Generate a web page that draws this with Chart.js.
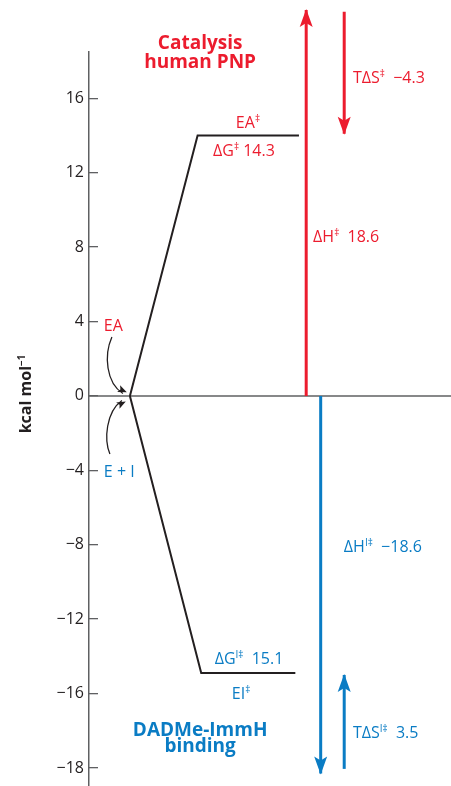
<!DOCTYPE html>
<html>
<head>
<meta charset="utf-8">
<script src="https://cdn.jsdelivr.net/npm/chart.js@4.4.1/dist/chart.umd.min.js"></script>
<style>
  html, body { margin: 0; padding: 0; background: #fff; }
  #wrap { width: 451px; height: 786px; }
</style>
</head>
<body>
<div id="wrap"><canvas id="energyChart" width="451" height="786"></canvas></div>
<script>
const RED = '#ec1c2e';
const BLUE = '#0a7cc4';
const INK = '#231f20';
const AXIS = '#5f6062';
const FONT = '"Open Sans", "DejaVu Sans", sans-serif';

// reaction path: ground state -> transition state (x = reaction coordinate, y = kcal/mol)
const catalysisX = [11.3, 30, 58];
const catalysisY = [0, 14.0, 14.0];
const bindingX = [11.3, 31, 57];
const bindingY = [0, -14.9, -14.9];

// enthalpy and entropy arrows, [start, end]
const dHCatalysisX = 60;
const dHCatalysisY = [0, 20.75];
const dHBindingX = 64;
const dHBindingY = [0, -20.3];
const tdsX = 70.5;
const tdsCatalysisY = [20.65, 14.1];
const tdsBindingY = [-20.05, -15.0];

// y axis
const tickValues = [16, 12, 8, 4, 0, -4, -8, -12, -16, -20];
const tickLabels = ['16', '12', '8', '4', '0', '\u22124', '\u22128', '\u221212', '\u221216', '\u221218'];

// text labels, placed in data units; runs are [text, superscript?]
const notes = [
  { x: 30.7, y: 18.66, align: 'center', color: RED, size: 19, bold: true, runs: [['Catalysis']] },
  { x: 30.7, y: 17.63, align: 'center', color: RED, size: 19, bold: true, runs: [['human PNP']] },
  { x: 43.9, y: 14.41, align: 'center', color: RED, size: 16, runs: [['EA'], ['\u2021', true]] },
  { x: 42.8, y: 12.9, align: 'center', color: RED, size: 16, runs: [['\u0394G'], ['\u2021', true], [' 14.3']] },
  { x: 72.9, y: 16.83, align: 'left', color: RED, size: 16, runs: [['T\u0394S'], ['\u2021', true], ['  \u22124.3']] },
  { x: 61.9, y: 8.28, align: 'left', color: RED, size: 16, runs: [['\u0394H'], ['\u2021', true], ['  18.6']] },
  { x: 4.1, y: 3.49, align: 'left', color: RED, size: 16, runs: [['EA']] },
  { x: 4.1, y: -4.35, align: 'left', color: BLUE, size: 16, runs: [['E + I']] },
  { x: 70.4, y: -8.39, align: 'left', color: BLUE, size: 16, runs: [['\u0394H'], ['I\u2021', true], ['  \u221218.6']] },
  { x: 44.2, y: -14.41, align: 'center', color: BLUE, size: 16, runs: [['\u0394G'], ['I\u2021', true], ['  15.1']] },
  { x: 42.0, y: -16.29, align: 'center', color: BLUE, size: 16, runs: [['EI'], ['\u2021', true]] },
  { x: 30.7, y: -18.3, align: 'center', color: BLUE, size: 19, bold: true, runs: [['DADMe-ImmH']] },
  { x: 30.7, y: -19.14, align: 'center', color: BLUE, size: 19, bold: true, runs: [['binding']] },
  { x: 72.9, y: -18.39, align: 'left', color: BLUE, size: 16, runs: [['T\u0394S'], ['I\u2021', true], ['  3.5']] }
];

const pts = (xs, ys) => ys.map((y, i) => ({ x: Array.isArray(xs) ? xs[i] : xs, y }));

function drawRuns(ctx, runs, x, y, align, size, bold, color) {
  const weight = bold ? '700 ' : '400 ';
  const big = weight + size + 'px ' + FONT;
  const small = weight + Math.round(size * 0.62) + 'px ' + FONT;
  let total = 0;
  const widths = runs.map(([t, sup]) => {
    ctx.font = sup ? small : big;
    const w = ctx.measureText(t).width;
    total += w;
    return w;
  });
  let cx = align === 'center' ? x - total / 2 : align === 'right' ? x - total : x;
  ctx.fillStyle = color;
  ctx.textAlign = 'left';
  ctx.textBaseline = 'alphabetic';
  runs.forEach(([t, sup], i) => {
    ctx.font = sup ? small : big;
    ctx.fillText(t, cx, sup ? y - size * 0.36 : y);
    cx += widths[i];
  });
}

function arrowHead(ctx, x, y, angle, len, half, notch, color) {
  ctx.save();
  ctx.translate(x, y);
  ctx.rotate(angle);
  ctx.fillStyle = color;
  ctx.beginPath();
  ctx.moveTo(1, 0);
  ctx.lineTo(-len, -half);
  ctx.lineTo(-len + notch, 0);
  ctx.lineTo(-len, half);
  ctx.closePath();
  ctx.fill();
  ctx.restore();
}

const decorations = {
  id: 'decorations',
  afterDatasetsDraw(chart) {
    const ctx = chart.ctx;
    const xs = chart.scales.x, ys = chart.scales.y;

    // arrowheads at the end of flagged datasets
    chart.data.datasets.forEach((ds, i) => {
      if (!ds.arrow) return;
      const el = chart.getDatasetMeta(i).data;
      const a = el[el.length - 1], b = el[el.length - 2];
      arrowHead(ctx, a.x, a.y, Math.atan2(a.y - b.y, a.x - b.x), 17, 6.5, 4, ds.borderColor);
    });

    // curved arrows from the EA and E + I labels into the ground state
    const ox = xs.getPixelForValue(catalysisX[0]);
    const oy = ys.getPixelForValue(0);
    const curves = [
      [[-18, -59], [-26, -41], [-24, -13], [-4, -4]],
      [[-20, 58], [-26, 44], [-24, 16], [-5, 6]]
    ];
    ctx.save();
    ctx.strokeStyle = INK;
    ctx.lineWidth = 1.3;
    curves.forEach(c => {
      ctx.beginPath();
      ctx.moveTo(ox + c[0][0], oy + c[0][1]);
      ctx.bezierCurveTo(ox + c[1][0], oy + c[1][1], ox + c[2][0], oy + c[2][1], ox + c[3][0] - 3, oy + c[3][1] - Math.sign(c[3][1]) * 1.5);
      ctx.stroke();
      const ang = Math.atan2(c[3][1] - c[2][1], c[3][0] - c[2][0]);
      arrowHead(ctx, ox + c[3][0], oy + c[3][1], ang, 8, 3.6, 2, INK);
    });
    ctx.restore();

    // labels
    notes.forEach(n => {
      drawRuns(ctx, n.runs, xs.getPixelForValue(n.x), ys.getPixelForValue(n.y), n.align, n.size, n.bold, n.color);
    });

    // axis title
    ctx.save();
    ctx.translate(31, ys.getPixelForValue(0) - 2);
    ctx.rotate(-Math.PI / 2);
    drawRuns(ctx, [['kcal mol'], ['\u22121', true]], 0, 0, 'center', 16, true, INK);
    ctx.restore();
  }
};

const lineDs = (data, color, width, extra) => Object.assign({
  data, borderColor: color, borderWidth: width, pointRadius: 0, showLine: true,
  fill: false, tension: 0, clip: false, borderCapStyle: 'butt'
}, extra || {});

new Chart(document.getElementById('energyChart'), {
  type: 'scatter',
  data: {
    datasets: [
      lineDs(pts(catalysisX, catalysisY), INK, 2),
      lineDs(pts(bindingX, bindingY), INK, 2),
      lineDs(pts(dHCatalysisX, dHCatalysisY), RED, 3, { arrow: true }),
      lineDs(pts(dHBindingX, dHBindingY), BLUE, 3, { arrow: true }),
      lineDs(pts(tdsX, tdsCatalysisY), RED, 3, { arrow: true }),
      lineDs(pts(tdsX, tdsBindingY), BLUE, 3, { arrow: true }),
      lineDs(pts([0, 100], [0, 0]), AXIS, 1.5)
    ]
  },
  options: {
    responsive: false,
    animation: false,
    layout: { padding: { top: 52, left: 0, right: 0, bottom: 0 } },
    plugins: { legend: { display: false }, tooltip: { enabled: false } },
    scales: {
      x: { type: 'linear', min: 0, max: 100, display: false },
      y: {
        type: 'linear',
        min: -20.97,
        max: 18.49,
        afterBuildTicks: s => { s.ticks = tickValues.map(v => ({ value: v })); },
        afterFit: s => { s.width = 89; s.paddingTop = 0; s.paddingBottom = 0; },
        border: { display: true, color: AXIS, width: 1.5 },
        grid: { drawOnChartArea: false, drawTicks: true, tickLength: -9, color: AXIS, lineWidth: 1.3 },
        ticks: {
          autoSkip: false,
          padding: 14,
          color: INK,
          font: { family: FONT, size: 16 },
          callback: (v, i) => tickLabels[i]
        }
      }
    }
  },
  plugins: [decorations]
});
</script>
</body>
</html>
